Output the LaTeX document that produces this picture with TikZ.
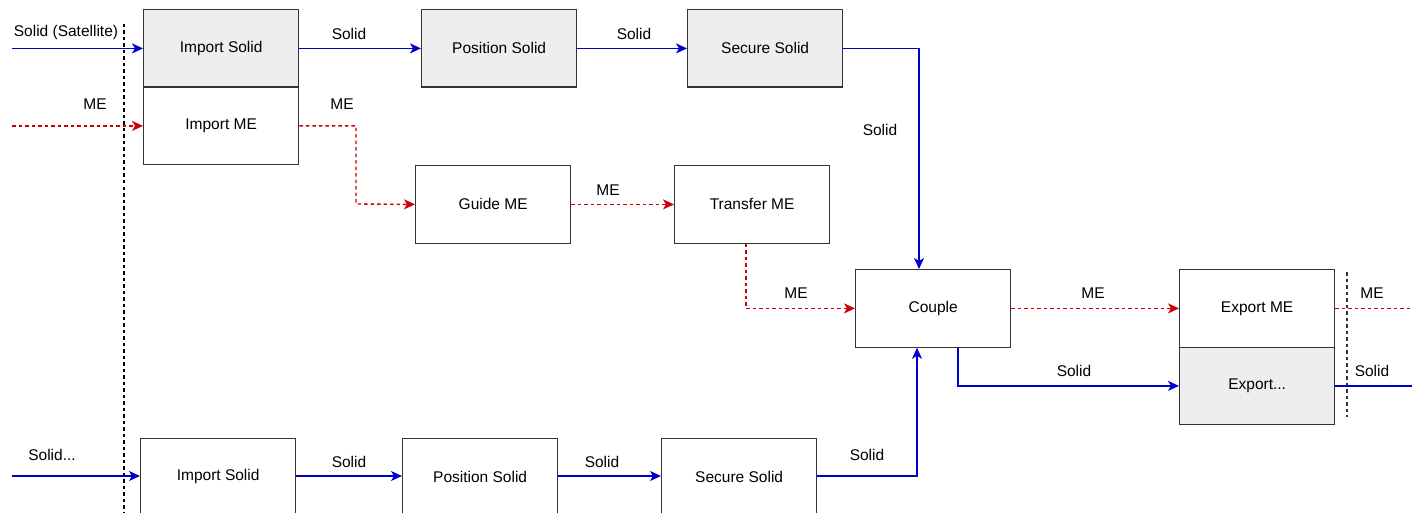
\documentclass[tikz,border=0pt]{standalone}
\usepackage{fontspec}
\setmainfont{Liberation Sans}
\usetikzlibrary{arrows.meta}
\definecolor{sblue}{HTML}{0000CC}
\definecolor{mred}{HTML}{CC0000}
\definecolor{gfill}{HTML}{EEEEEE}
\definecolor{bord}{HTML}{333333}
\begin{document}
\begin{tikzpicture}[x=1pt,y=-1pt,
  font=\fontsize{15.5}{18}\selectfont,
  box/.style={draw=bord,line width=1.3pt,fill=white,minimum width=155pt,minimum height=77.5pt,inner sep=0pt,anchor=north west},
  gbox/.style={box,fill=gfill},
  solidarr/.style={draw=sblue,line width=1.4pt,-{Stealth[length=11pt,width=10pt,inset=3pt]}},
  mearr/.style={draw=mred,line width=1.4pt,dash pattern=on 3.5pt off 3pt,-{Stealth[length=11pt,width=10pt,inset=3pt]}},
  solidline/.style={draw=sblue,line width=1.4pt},
  meline/.style={draw=mred,line width=1.4pt,dash pattern=on 3.5pt off 3pt},
  lbl/.style={inner sep=0pt,anchor=center},
  bnd/.style={draw=black,line width=1.2pt,dash pattern=on 3.5pt off 3pt}]
\useasboundingbox (0,0) rectangle (1412,513);
% boxes
\node[gbox] (is1) at (143,9) {Import Solid};
\node[box] (ime) at (143,86.5) {Import ME};
\node[gbox] (ps1) at (421,9) {Position Solid};
\node[gbox] (ss1) at (687,9) {Secure Solid};
\node[box] (gme) at (415,165) {Guide ME};
\node[box] (tme) at (674,165) {Transfer ME};
\node[box] (cpl) at (855,269) {Couple};
\node[box] (eme) at (1179,269) {Export ME};
\node[gbox] (exs) at (1179,346.5) {Export...};
\node[box] (is2) at (140,437.5) {Import Solid};
\node[box] (ps2) at (402,437.5) {Position Solid};
\node[box] (ss2) at (661,437.5) {Secure Solid};
% boundaries
\coordinate (b1t) at (124,24);
\coordinate (b1b) at (124,513);
\draw[bnd] (b1t) -- (b1b);
\coordinate (b2t) at (1347,272);
\coordinate (b2b) at (1347,417);
\draw[bnd,draw=bord] (b2t) -- (b2b);
% free ends
\coordinate (inS) at (is1.west -| 12,0);
\coordinate (inM) at (ime.west -| 12,0);
\coordinate (inS2) at (12,476);
\coordinate (outM) at (eme.east -| 1412,0);
\coordinate (outS) at (exs.east -| 1412,0);
% solid top row
\draw[solidarr] (inS) -- (is1.west);
\draw[solidarr] (is1.east) -- (ps1.west);
\draw[solidarr] (ps1.east) -- (ss1.west);
\draw[solidarr] (ss1.east) -| (cpl.north -| 919,0);
% ME chain
\draw[mearr] (inM) -- (ime.west);
\draw[mearr] (ime.east) -| (356,204) -- (gme.west);
\draw[mearr] (gme.east) -- (tme.west);
\draw[mearr] (tme.south -| 746,0) |- (cpl.west);
\draw[mearr] (cpl.east) -- (eme.west);
\draw[meline] (eme.east) -- (outM);
% couple -> export solid
\draw[solidarr] (cpl.south -| 958,0) |- (exs.west);
\draw[solidline] (exs.east) -- (outS);
% bottom row
\draw[solidarr] (inS2) -- (is2.west |- inS2);
\draw[solidarr] (is2.east |- inS2) -- (ps2.west |- inS2);
\draw[solidarr] (ps2.east |- inS2) -- (ss2.west |- inS2);
\draw[solidarr] (ss2.east |- inS2) -| (cpl.south -| 917,0);
% labels
\node[lbl] (l1) at (66,32) {Solid (Satellite)};
\node[lbl] (l2) at (349,34) {Solid};
\node[lbl] (l3) at (634,34) {Solid};
\node[lbl] (l4) at (880,130) {Solid};
\node[lbl] (l5) at (95,104) {ME};
\node[lbl] (l6) at (342,104) {ME};
\node[lbl] (l7) at (608,190) {ME};
\node[lbl] (l8) at (796,293) {ME};
\node[lbl] (l9) at (1093,293) {ME};
\node[lbl] (l10) at (1372,293) {ME};
\node[lbl] (l11) at (1074,371) {Solid};
\node[lbl] (l12) at (1372,371) {Solid};
\node[lbl] (l13) at (52,455) {Solid...};
\node[lbl] (l14) at (349,462) {Solid};
\node[lbl] (l15) at (602,462) {Solid};
\node[lbl] (l16) at (867,455) {Solid};
\end{tikzpicture}
\end{document}
